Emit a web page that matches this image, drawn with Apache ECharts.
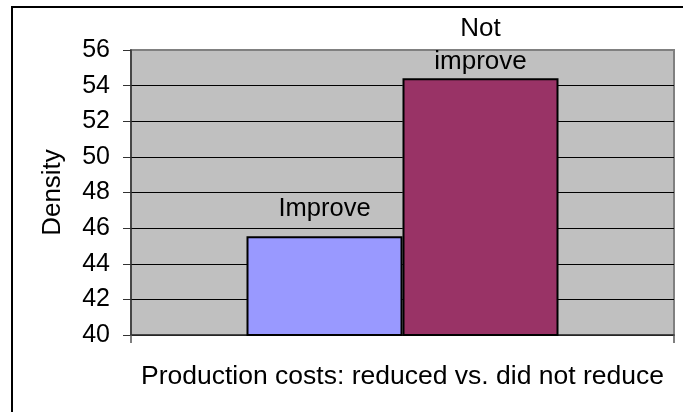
<!DOCTYPE html>
<html>
<head>
<meta charset="utf-8">
<script src="https://cdn.jsdelivr.net/npm/echarts@6/dist/echarts.min.js"></script>
<style>
html,body{margin:0;padding:0;background:#fff;}
#chart{width:683px;height:412px;}
</style>
</head>
<body>
<div id="chart"></div>
<script>
var categories = [''];
var seriesNames = ['Improve', 'Not\nimprove'];
var improveValues = [45.55];
var notImproveValues = [54.42];
var yTicks = [40, 42, 44, 46, 48, 50, 52, 54, 56];
var xAxisTitle = 'Production costs: reduced vs. did not reduce';
var yAxisTitle = 'Density';

var FONT = 'Liberation Sans, Arial, sans-serif';
var chart = echarts.init(document.getElementById('chart'), null, {renderer: 'canvas'});
var splitColors = yTicks.map(function (v, i) { return i === yTicks.length - 1 ? '#808080' : '#000'; });

chart.setOption({
  animation: false,
  backgroundColor: '#fff',
  graphic: [{
    type: 'rect',
    shape: {x: 12, y: 7, width: 720, height: 500},
    style: {fill: 'none', stroke: '#000', lineWidth: 2},
    z: 100
  }],
  grid: {
    left: 131, right: 9, top: 50, bottom: 77,
    show: true, backgroundColor: '#C0C0C0', borderColor: '#808080', borderWidth: 2
  },
  xAxis: {
    type: 'category',
    data: categories,
    boundaryGap: true,
    name: xAxisTitle,
    nameLocation: 'middle',
    nameGap: 28,
    nameTextStyle: {fontFamily: FONT, fontSize: 26.5, color: '#000'},
    axisLine: {lineStyle: {color: '#333', width: 1.5}},
    axisTick: {show: true, length: 8, lineStyle: {color: '#555', width: 1.5}},
    axisLabel: {show: false}
  },
  yAxis: {
    type: 'value',
    min: yTicks[0], max: yTicks[yTicks.length - 1], interval: 2,
    name: yAxisTitle,
    nameLocation: 'middle',
    nameGap: 65,
    nameTextStyle: {fontFamily: FONT, fontSize: 26, color: '#000'},
    axisLine: {show: true, lineStyle: {color: '#333', width: 1.5}},
    axisTick: {show: true, length: 8, lineStyle: {color: '#333', width: 1}},
    axisLabel: {margin: 21, fontFamily: FONT, fontSize: 25, color: '#000'},
    splitLine: {show: true, lineStyle: {color: splitColors, width: 1}}
  },
  series: [{
    name: seriesNames[0],
    type: 'bar',
    barWidth: 156,
    barGap: '0%',
    data: improveValues.map(function (v) {
      return {value: v, label: {show: true, position: 'top', distance: 14.5, formatter: seriesNames[0]}};
    }),
    itemStyle: {color: '#9999FF', borderColor: '#000', borderWidth: 2},
    label: {fontFamily: FONT, fontSize: 25.5, color: '#000'}
  }, {
    name: seriesNames[1],
    type: 'bar',
    barWidth: 156,
    data: notImproveValues.map(function (v) {
      return {value: v, label: {show: true, position: 'top', distance: 0, formatter: seriesNames[1], lineHeight: 33}};
    }),
    itemStyle: {color: '#993366', borderColor: '#000', borderWidth: 2},
    label: {fontFamily: FONT, fontSize: 26, color: '#000', lineHeight: 33}
  }]
});
</script>
</body>
</html>
